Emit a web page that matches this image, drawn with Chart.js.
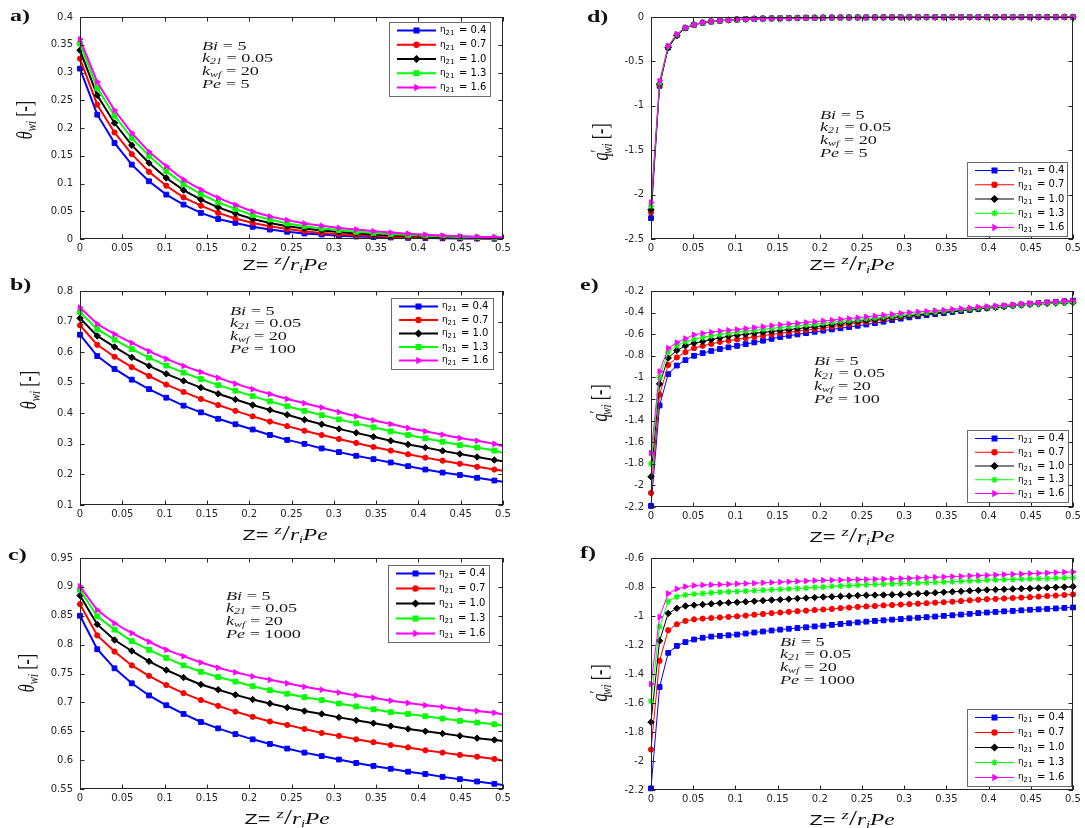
<!DOCTYPE html>
<html>
<head>
<meta charset="utf-8">
<script src="https://cdn.jsdelivr.net/npm/chart.js@4.4.1/dist/chart.umd.min.js"></script>
<style>
  body { margin: 0; background: #fff; width: 1085px; height: 828px; position: relative; overflow: hidden; }
  canvas { position: absolute; }
  .lbl { position: absolute; white-space: nowrap; color: #111; }
  .letter { font: bold 16px "Liberation Serif", serif; transform-origin: left center; transform: translateY(-50%) scaleX(1.5); }
  .note { font: 13px "Liberation Serif", serif; line-height: 12.8px; transform-origin: left top; transform: scaleX(1.4); color: #1a1a1a; }
  .note sub { font-size: 8.5px; vertical-align: -2px; line-height: 0; }
  .xt { transform: translate(-50%, -50%) scaleX(1.45); font: 16px "Liberation Serif", serif; }
  .xt .s { font: 15px "Liberation Sans", sans-serif; }
  .xt sup { font-size: 13px; font-style: italic; vertical-align: 6px; line-height: 0; }
  .xt .sl { font-size: 20px; }
  .xt sub { font-size: 10px; vertical-align: -3px; line-height: 0; }
  .yt { transform: translate(-50%, -50%) rotate(-90deg) scaleY(1.4); font: 16px "Liberation Serif", serif; }
  .yt sub { font-size: 11px; font-style: italic; vertical-align: -3px; line-height: 0; }
  .yt sup { font-size: 13px; vertical-align: 3px; line-height: 0; margin-right: -4px; }
</style>
</head>
<body>
<script>
// shared x grids (z = z / r_i Pe)
const zCoarse = [0, 0.0204, 0.0408, 0.0612, 0.0816, 0.102, 0.1224, 0.1429, 0.1633, 0.1837,
  0.2041, 0.2245, 0.2449, 0.2653, 0.2857, 0.3061, 0.3265, 0.3469, 0.3673, 0.3878,
  0.4082, 0.4286, 0.449, 0.4694, 0.4898, 0.5];
const zFine = [0, 0.0102, 0.0204, 0.0306, 0.0408, 0.051, 0.0612, 0.0714, 0.0816, 0.0918,
  0.102, 0.1122, 0.1224, 0.1327, 0.1429, 0.1531, 0.1633, 0.1735, 0.1837, 0.1939,
  0.2041, 0.2143, 0.2245, 0.2347, 0.2449, 0.2551, 0.2653, 0.2755, 0.2857, 0.2959,
  0.3061, 0.3163, 0.3265, 0.3367, 0.3469, 0.3571, 0.3673, 0.3776, 0.3878, 0.398,
  0.4082, 0.4184, 0.4286, 0.4388, 0.449, 0.4592, 0.4694, 0.4796, 0.4898, 0.5];

const etaValues = ['0.4', '0.7', '1.0', '1.3', '1.6'];
const seriesColors = ['#0000ff', '#ff0000', '#000000', '#00ff00', '#ff00ff'];
const markersLeft = ['rect', 'circle', 'rectRot', 'rect', 'triangle'];
const markersRight = ['rect', 'circle', 'rectRot', 'star', 'triangle'];

// a) theta_wi, Pe = 5
const thetaPe5 = [
  [0.307,0.224,0.173,0.134,0.104,0.080,0.062,0.047,0.036,0.029,0.022,0.017,0.013,0.010,0.008,0.006,0.0045,0.0035,0.0027,0.002,0.0016,0.0012,0.0009,0.0007,0.0005,0.0005],
  [0.325,0.242,0.192,0.153,0.121,0.096,0.075,0.060,0.047,0.037,0.029,0.023,0.018,0.014,0.011,0.0087,0.0068,0.0053,0.0042,0.0033,0.0026,0.002,0.0016,0.0012,0.001,0.0009],
  [0.340,0.259,0.209,0.169,0.137,0.110,0.088,0.071,0.057,0.046,0.036,0.029,0.023,0.019,0.0155,0.0125,0.01,0.0082,0.0066,0.0053,0.0043,0.0034,0.0027,0.0022,0.0018,0.0016],
  [0.352,0.272,0.222,0.182,0.150,0.122,0.099,0.081,0.066,0.054,0.043,0.035,0.028,0.023,0.019,0.016,0.013,0.011,0.009,0.0073,0.006,0.0048,0.0038,0.003,0.0025,0.0023],
  [0.360,0.283,0.232,0.191,0.157,0.131,0.107,0.089,0.074,0.0616,0.0496,0.0407,0.034,0.028,0.024,0.020,0.017,0.014,0.0115,0.0096,0.0078,0.0062,0.005,0.004,0.0033,0.003]
];
// b) theta_wi, Pe = 100
const thetaPe100 = [
  [0.657,0.587,0.545,0.510,0.479,0.451,0.425,0.403,0.382,0.364,0.347,0.329,0.313,0.300,0.285,0.273,0.261,0.250,0.239,0.227,0.216,0.206,0.198,0.189,0.180,0.176],
  [0.688,0.624,0.585,0.551,0.522,0.494,0.470,0.447,0.427,0.408,0.390,0.373,0.358,0.343,0.329,0.316,0.303,0.290,0.278,0.266,0.255,0.245,0.235,0.225,0.216,0.212],
  [0.711,0.653,0.617,0.583,0.555,0.529,0.506,0.484,0.464,0.445,0.427,0.411,0.395,0.379,0.364,0.349,0.336,0.323,0.310,0.298,0.288,0.277,0.267,0.257,0.247,0.243],
  [0.731,0.675,0.641,0.610,0.582,0.556,0.533,0.512,0.492,0.474,0.456,0.439,0.423,0.408,0.394,0.380,0.367,0.354,0.341,0.329,0.318,0.307,0.296,0.288,0.278,0.271],
  [0.746,0.692,0.659,0.630,0.603,0.578,0.555,0.535,0.516,0.497,0.479,0.463,0.447,0.433,0.419,0.404,0.390,0.377,0.365,0.352,0.341,0.330,0.319,0.310,0.300,0.292]
];
// c) theta_wi, Pe = 1000
const thetaPe1000 = [
  [0.850,0.792,0.759,0.733,0.712,0.695,0.680,0.666,0.655,0.645,0.636,0.628,0.620,0.613,0.607,0.601,0.595,0.590,0.585,0.580,0.576,0.571,0.567,0.563,0.559,0.557],
  [0.870,0.816,0.788,0.764,0.746,0.730,0.716,0.704,0.694,0.684,0.675,0.667,0.661,0.654,0.647,0.642,0.636,0.631,0.626,0.622,0.617,0.613,0.609,0.606,0.602,0.599],
  [0.885,0.835,0.808,0.789,0.771,0.756,0.743,0.731,0.722,0.713,0.705,0.698,0.691,0.685,0.680,0.674,0.669,0.664,0.659,0.654,0.650,0.646,0.642,0.638,0.635,0.633],
  [0.895,0.849,0.826,0.806,0.791,0.777,0.764,0.753,0.744,0.736,0.728,0.721,0.715,0.709,0.704,0.698,0.693,0.688,0.683,0.680,0.676,0.672,0.668,0.665,0.662,0.660],
  [0.901,0.860,0.837,0.820,0.805,0.791,0.780,0.769,0.760,0.752,0.745,0.739,0.733,0.727,0.722,0.717,0.712,0.708,0.703,0.699,0.695,0.692,0.688,0.685,0.682,0.679]
];
// d) q'_wi, Pe = 5
const qPe5 = [
  [-2.265,-0.775,-0.345,-0.205,-0.125,-0.088,-0.065,-0.052,-0.042,-0.035,-0.029,-0.025,-0.021,-0.018,-0.016,-0.014,-0.012,-0.011,-0.0095,-0.0085,-0.0075,-0.0067,-0.006,-0.0054,-0.0048,-0.0043,-0.0039,-0.0035,-0.0032,-0.0029,-0.0026,-0.0024,-0.0022,-0.002,-0.0018,-0.0016,-0.0015,-0.0014,-0.0013,-0.0012,-0.0011,-0.001,-0.0009,-0.0008,-0.0008,-0.0007,-0.0007,-0.0006,-0.0006,-0.0005],
  [-2.2,-0.765,-0.34,-0.203,-0.123,-0.087,-0.064,-0.051,-0.042,-0.035,-0.029,-0.025,-0.021,-0.018,-0.016,-0.014,-0.012,-0.011,-0.0097,-0.0087,-0.0077,-0.0069,-0.0062,-0.0056,-0.005,-0.0045,-0.0041,-0.0037,-0.0033,-0.003,-0.0027,-0.0025,-0.0023,-0.0021,-0.0019,-0.0017,-0.0016,-0.0015,-0.0014,-0.0013,-0.0012,-0.0011,-0.001,-0.0009,-0.0009,-0.0008,-0.0008,-0.0007,-0.0007,-0.0006],
  [-2.17,-0.755,-0.345,-0.21,-0.124,-0.087,-0.064,-0.051,-0.041,-0.034,-0.029,-0.025,-0.021,-0.018,-0.016,-0.014,-0.0125,-0.011,-0.0099,-0.0089,-0.0079,-0.0071,-0.0064,-0.0058,-0.0052,-0.0047,-0.0042,-0.0038,-0.0034,-0.0031,-0.0028,-0.0026,-0.0024,-0.0022,-0.002,-0.0018,-0.0017,-0.0016,-0.0015,-0.0014,-0.0013,-0.0012,-0.0011,-0.001,-0.0009,-0.0009,-0.0008,-0.0008,-0.0007,-0.0007],
  [-2.13,-0.745,-0.33,-0.197,-0.12,-0.085,-0.063,-0.05,-0.041,-0.034,-0.029,-0.025,-0.021,-0.0185,-0.0163,-0.0143,-0.0127,-0.0112,-0.0101,-0.0091,-0.0081,-0.0073,-0.0066,-0.006,-0.0054,-0.0049,-0.0044,-0.004,-0.0036,-0.0033,-0.003,-0.0027,-0.0025,-0.0023,-0.0021,-0.0019,-0.0018,-0.0017,-0.0016,-0.0015,-0.0014,-0.0013,-0.0012,-0.0011,-0.001,-0.001,-0.0009,-0.0009,-0.0008,-0.0008],
  [-2.09,-0.72,-0.325,-0.192,-0.118,-0.084,-0.062,-0.049,-0.04,-0.033,-0.028,-0.024,-0.021,-0.0185,-0.0165,-0.0145,-0.013,-0.0115,-0.0103,-0.0093,-0.0083,-0.0075,-0.0068,-0.0062,-0.0056,-0.0051,-0.0046,-0.0042,-0.0038,-0.0035,-0.0032,-0.0029,-0.0027,-0.0025,-0.0023,-0.0021,-0.002,-0.0019,-0.0018,-0.0017,-0.0016,-0.0015,-0.0014,-0.0013,-0.0012,-0.0011,-0.0011,-0.001,-0.001,-0.0009]
];
// e) q'_wi, Pe = 100
const qPe100 = [
  [-2.19,-1.26,-0.97,-0.89,-0.84,-0.80,-0.775,-0.755,-0.737,-0.722,
   -0.708,-0.692,-0.676,-0.66,-0.643,-0.626,-0.614,-0.602,-0.59,-0.578,
   -0.567,-0.556,-0.545,-0.534,-0.522,-0.51,-0.497,-0.484,-0.47,-0.456,
   -0.444,-0.434,-0.424,-0.414,-0.404,-0.394,-0.385,-0.375,-0.366,-0.356,
   -0.348,-0.341,-0.333,-0.326,-0.318,-0.312,-0.306,-0.3,-0.295,-0.29],
  [-2.07,-1.16,-0.886,-0.815,-0.766,-0.729,-0.708,-0.69,-0.672,-0.66,
   -0.649,-0.637,-0.625,-0.614,-0.602,-0.591,-0.581,-0.571,-0.561,-0.551,
   -0.541,-0.53,-0.519,-0.508,-0.497,-0.486,-0.475,-0.464,-0.453,-0.442,
   -0.431,-0.421,-0.411,-0.401,-0.391,-0.383,-0.375,-0.367,-0.36,-0.352,
   -0.345,-0.338,-0.332,-0.326,-0.319,-0.314,-0.309,-0.304,-0.3,-0.295],
  [-1.92,-1.06,-0.82,-0.75,-0.708,-0.683,-0.668,-0.65,-0.634,-0.62,
   -0.61,-0.601,-0.592,-0.583,-0.575,-0.567,-0.558,-0.549,-0.54,-0.531,
   -0.522,-0.512,-0.502,-0.492,-0.482,-0.473,-0.464,-0.455,-0.446,-0.437,
   -0.429,-0.421,-0.413,-0.405,-0.397,-0.389,-0.381,-0.374,-0.366,-0.359,
   -0.352,-0.345,-0.338,-0.331,-0.324,-0.32,-0.317,-0.313,-0.31,-0.308],
  [-1.8,-1.0,-0.766,-0.705,-0.668,-0.646,-0.63,-0.615,-0.603,-0.591,
   -0.581,-0.572,-0.563,-0.555,-0.546,-0.538,-0.53,-0.522,-0.514,-0.506,
   -0.497,-0.489,-0.481,-0.473,-0.464,-0.456,-0.448,-0.44,-0.432,-0.424,
   -0.416,-0.409,-0.402,-0.395,-0.387,-0.38,-0.373,-0.366,-0.359,-0.352,
   -0.346,-0.34,-0.334,-0.328,-0.322,-0.318,-0.315,-0.311,-0.308,-0.305],
  [-1.7,-0.945,-0.73,-0.677,-0.64,-0.605,-0.592,-0.581,-0.571,-0.564,
   -0.557,-0.548,-0.539,-0.53,-0.52,-0.512,-0.505,-0.498,-0.491,-0.484,
   -0.477,-0.47,-0.462,-0.455,-0.447,-0.439,-0.431,-0.423,-0.415,-0.406,
   -0.399,-0.393,-0.388,-0.382,-0.377,-0.37,-0.363,-0.356,-0.349,-0.343,
   -0.337,-0.332,-0.326,-0.32,-0.315,-0.31,-0.305,-0.3,-0.296,-0.292]
];
// f) q'_wi, Pe = 1000
const qPe1000 = [
  [-2.189,-1.49,-1.254,-1.206,-1.18,-1.162,-1.15,-1.142,-1.137,-1.133,
   -1.128,-1.121,-1.114,-1.107,-1.1,-1.094,-1.088,-1.083,-1.078,-1.072,
   -1.067,-1.061,-1.055,-1.05,-1.044,-1.039,-1.034,-1.03,-1.025,-1.021,
   -1.016,-1.012,-1.008,-1.004,-0.999,-0.995,-0.99,-0.985,-0.98,-0.976,
   -0.972,-0.968,-0.965,-0.961,-0.957,-0.954,-0.951,-0.948,-0.944,-0.941],
  [-1.921,-1.309,-1.098,-1.057,-1.034,-1.023,-1.018,-1.014,-1.01,-1.006,
   -1.002,-0.997,-0.991,-0.986,-0.98,-0.976,-0.971,-0.967,-0.963,-0.959,
   -0.955,-0.951,-0.946,-0.942,-0.937,-0.934,-0.931,-0.927,-0.924,-0.921,
   -0.918,-0.915,-0.912,-0.908,-0.905,-0.901,-0.897,-0.892,-0.888,-0.884,
   -0.882,-0.879,-0.876,-0.873,-0.87,-0.866,-0.862,-0.859,-0.855,-0.851],
  [-1.732,-1.171,-0.982,-0.947,-0.931,-0.925,-0.921,-0.916,-0.911,-0.908,
   -0.906,-0.902,-0.898,-0.894,-0.89,-0.887,-0.883,-0.879,-0.876,-0.872,
   -0.869,-0.867,-0.864,-0.862,-0.859,-0.857,-0.856,-0.855,-0.853,-0.852,
   -0.849,-0.846,-0.843,-0.84,-0.836,-0.833,-0.83,-0.826,-0.823,-0.82,
   -0.818,-0.816,-0.814,-0.812,-0.81,-0.807,-0.805,-0.802,-0.8,-0.797],
  [-1.588,-1.075,-0.9,-0.867,-0.854,-0.849,-0.845,-0.84,-0.836,-0.833,
   -0.831,-0.828,-0.825,-0.822,-0.819,-0.816,-0.813,-0.81,-0.806,-0.803,
   -0.8,-0.796,-0.793,-0.79,-0.787,-0.784,-0.782,-0.78,-0.778,-0.776,
   -0.774,-0.772,-0.77,-0.768,-0.766,-0.763,-0.761,-0.758,-0.756,-0.753,
   -0.751,-0.749,-0.748,-0.746,-0.744,-0.742,-0.741,-0.739,-0.737,-0.735],
  [-1.469,-1.007,-0.845,-0.813,-0.797,-0.79,-0.787,-0.785,-0.783,-0.781,
   -0.778,-0.776,-0.774,-0.771,-0.769,-0.766,-0.764,-0.761,-0.759,-0.756,
   -0.754,-0.753,-0.752,-0.75,-0.749,-0.748,-0.746,-0.745,-0.744,-0.742,
   -0.74,-0.737,-0.735,-0.733,-0.73,-0.728,-0.726,-0.723,-0.721,-0.719,
   -0.717,-0.714,-0.712,-0.71,-0.707,-0.705,-0.703,-0.7,-0.698,-0.696]
];

// panel layout: plot = [left, top, right, bottom] in page pixels
const panels = [
  { tag: 'a)', plot: [80, 16, 503, 239], z: zCoarse, vals: thetaPe5, y: [0, 0.4, 0.05], kind: 'theta', pe: '5',
    legend: [389, 22, 101, 74], note: [202, 46], letter: [10, 16], ytitle: [25, 120], xtitle: [285, 263] },
  { tag: 'b)', plot: [80, 290, 503, 505], z: zCoarse, vals: thetaPe100, y: [0.1, 0.8, 0.1], kind: 'theta', pe: '100',
    legend: [391, 298, 102, 71], note: [230, 311], letter: [10, 285], ytitle: [29, 390], xtitle: [285, 533] },
  { tag: 'c)', plot: [80, 557, 503, 789], z: zCoarse, vals: thetaPe1000, y: [0.55, 0.95, 0.05], kind: 'theta', pe: '1000',
    legend: [388, 565, 101, 77], note: [226, 596], letter: [8, 555], ytitle: [27, 673], xtitle: [287, 817] },
  { tag: 'd)', plot: [651, 16, 1073, 239], z: zFine, vals: qPe5, y: [-2.5, 0, 0.5], kind: 'q', pe: '5',
    legend: [967, 162, 100, 74], note: [820, 115], letter: [587, 17], ytitle: [601, 142], xtitle: [852, 263] },
  { tag: 'e)', plot: [651, 290, 1073, 507], z: zFine, vals: qPe100, y: [-2.2, -0.2, 0.2], kind: 'q', pe: '100',
    legend: [967, 430, 101, 72], note: [814, 361], letter: [580, 285], ytitle: [600, 403], xtitle: [852, 535] },
  { tag: 'f)', plot: [651, 557, 1073, 790], z: zFine, vals: qPe1000, y: [-2.2, -0.6, 0.2], kind: 'q', pe: '1000',
    legend: [967, 709, 104, 77], note: [780, 642], letter: [580, 553], ytitle: [600, 683], xtitle: [852, 818] }
];

const ML = 72, MT = 12, MR = 18, MB = 24;

Chart.defaults.font.family = '"DejaVu Sans", sans-serif';
Chart.defaults.font.size = 10;
Chart.defaults.color = '#262626';

function markerRadius(style) {
  if (style === 'rect') return 3.4;
  if (style === 'circle') return 2.6;
  return 3.2;
}

// MATLAB style box with inward ticks on all four sides
const boxPlugin = {
  id: 'matlabBox',
  afterDatasetsDraw(chart) {
    const { ctx, chartArea: a, scales: { x, y } } = chart;
    ctx.save();
    ctx.strokeStyle = '#262626';
    ctx.lineWidth = 1;
    ctx.beginPath();
    x.ticks.forEach(t => {
      const px = Math.round(x.getPixelForValue(t.value)) + 0.5;
      ctx.moveTo(px, a.bottom); ctx.lineTo(px, a.bottom - 4.5);
      ctx.moveTo(px, a.top); ctx.lineTo(px, a.top + 4.5);
    });
    y.ticks.forEach(t => {
      const py = Math.round(y.getPixelForValue(t.value)) + 0.5;
      ctx.moveTo(a.left, py); ctx.lineTo(a.left + 4.5, py);
      ctx.moveTo(a.right, py); ctx.lineTo(a.right - 4.5, py);
    });
    ctx.stroke();
    ctx.strokeRect(a.left + 0.5, a.top + 0.5, a.right - a.left - 1, a.bottom - a.top - 1);
    ctx.restore();
  }
};

// legend box drawn inside the axes
const legendPlugin = {
  id: 'etaLegend',
  afterDraw(chart) {
    const cfg = chart.options.plugins.etaLegend;
    if (!cfg) return;
    const { ctx } = chart;
    const [bx, by, bw, bh] = cfg.box;
    ctx.save();
    ctx.fillStyle = '#fff';
    ctx.fillRect(bx, by, bw, bh);
    ctx.strokeStyle = '#6a6a6a';
    ctx.lineWidth = 1;
    ctx.strokeRect(Math.round(bx) + 0.5, Math.round(by) + 0.5, bw, bh);
    const step = (bh - 17) / 4;
    chart.data.datasets.forEach((ds, i) => {
      const yy = by + 8.5 + i * step;
      ctx.strokeStyle = ds.borderColor;
      ctx.lineWidth = ds.borderWidth;
      ctx.beginPath();
      ctx.moveTo(bx + 8, yy); ctx.lineTo(bx + 47, yy);
      ctx.stroke();
      ctx.fillStyle = ds.borderColor;
      ctx.lineWidth = 1.2;
      Chart.helpers.drawPoint(ctx, {
        pointStyle: ds.pointStyle, rotation: ds.pointRotation,
        radius: markerRadius(ds.pointStyle), borderWidth: 1.2
      }, bx + 27.5, yy);
      ctx.fillStyle = '#000';
      ctx.textBaseline = 'middle';
      ctx.font = '9px "DejaVu Sans"';
      ctx.fillText('\u03b7', bx + 51, yy - 0.5);
      ctx.font = '7px "DejaVu Sans"';
      ctx.fillText('21', bx + 56.5, yy + 3);
      ctx.font = '10px "DejaVu Sans"';
      ctx.fillText('= ' + etaValues[i], bx + 70, yy);
    });
    ctx.restore();
  }
};

function addLabel(cls, x, y, html) {
  const d = document.createElement('div');
  d.className = 'lbl ' + cls;
  d.style.left = x + 'px';
  d.style.top = y + 'px';
  d.innerHTML = html;
  document.body.appendChild(d);
}

panels.forEach(p => {
  const [l, t, r, b] = p.plot;
  const cv = document.createElement('canvas');
  const cl = l - ML, ct = t - MT;
  cv.width = (r - l) + ML + MR;
  cv.height = (b - t) + MT + MB;
  cv.style.left = cl + 'px';
  cv.style.top = ct + 'px';
  document.body.appendChild(cv);

  const markers = p.kind === 'theta' ? markersLeft : markersRight;
  const coarse = p.z === zCoarse;
  const datasets = p.vals.map((vals, i) => ({
    label: '\u03b7 21 = ' + etaValues[i],
    data: p.z.map((x, k) => ({ x, y: vals[k] })),
    borderColor: seriesColors[i],
    backgroundColor: seriesColors[i],
    borderWidth: coarse ? 2 : 1,
    pointStyle: markers[i],
    pointRotation: markers[i] === 'triangle' ? 90 : 0,
    pointRadius: p.z.map((x, k) => (coarse && k === p.z.length - 1) ? 0 : markerRadius(markers[i])),
    pointBackgroundColor: seriesColors[i],
    pointBorderColor: seriesColors[i],
    pointBorderWidth: markers[i] === 'star' ? 1.2 : 1,
    clip: false,
    order: 4 - i
  }));

  new Chart(cv, {
    type: 'line',
    data: { datasets },
    options: {
      responsive: false,
      animation: false,
      events: [],
      layout: { padding: { left: 0, top: MT, right: MR, bottom: 0 } },
      plugins: {
        legend: { display: false },
        tooltip: { enabled: false },
        etaLegend: { box: [p.legend[0] - cl, p.legend[1] - ct, p.legend[2], p.legend[3]] }
      },
      scales: {
        x: {
          type: 'linear', min: 0, max: 0.5,
          afterFit: s => { s.height = MB; },
          grid: { display: false, drawTicks: false },
          border: { display: false },
          ticks: { stepSize: 0.05, autoSkip: false, maxRotation: 0, padding: 3,
            callback: v => String(+v.toFixed(2)) }
        },
        y: {
          type: 'linear', min: p.y[0], max: p.y[1],
          afterFit: s => { s.width = ML; },
          grid: { display: false, drawTicks: false },
          border: { display: false },
          ticks: { stepSize: p.y[2], autoSkip: false, padding: 7,
            callback: v => String(+v.toFixed(2)) }
        }
      }
    },
    plugins: [boxPlugin, legendPlugin]
  });

  addLabel('letter', p.letter[0], p.letter[1], p.tag);
  addLabel('note', p.note[0], p.note[1] - 6.4,
    '<i>Bi</i> = 5<br><i>k<sub>21</sub></i> = 0.05<br><i>k<sub>wf</sub></i> = 20<br><i>Pe</i> = ' + p.pe);
  addLabel('xt', p.xtitle[0], p.xtitle[1],
    '<span class="s">Z= </span><sup>z</sup><span class="sl">/</span><i>r<sub>i</sub>Pe</i>');
  const yHtml = p.kind === 'theta'
    ? '<i>\u03b8</i><sub>wi</sub> [-]'
    : '<i>q</i><sup>\u2032</sup><sub>wi</sub> [-]';
  addLabel('yt', p.ytitle[0], p.ytitle[1], yHtml);
});
</script>
</body>
</html>
